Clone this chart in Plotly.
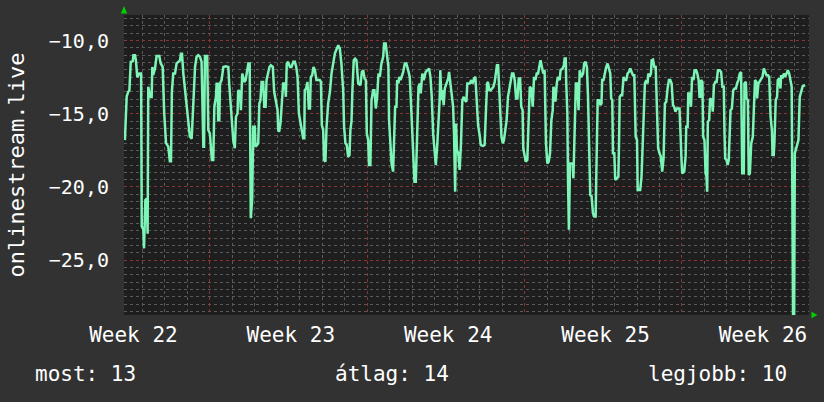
import plotly.graph_objects as go

# time in days from left edge of the graph, and measured values
days = [
    0.04, 0.09, 0.12, 0.19, 0.24, 0.30, 0.39, 0.42, 0.49, 0.53, 0.59, 0.68, 0.76, 0.79, 0.86, 0.89, 0.95, 1.01, 1.05, 1.08,
    1.16, 1.23, 1.26, 1.30, 1.38, 1.45, 1.57, 1.63, 1.72, 1.79, 1.87, 1.97, 2.04, 2.09, 2.13, 2.19, 2.27, 2.34, 2.42, 2.49,
    2.53, 2.58, 2.64, 2.71, 2.79, 2.86, 2.93, 3.01, 3.08, 3.16, 3.23, 3.30, 3.38, 3.45, 3.53, 3.56, 3.60, 3.70, 3.75, 3.82,
    3.87, 3.91, 3.97, 4.02, 4.09, 4.12, 4.16, 4.19, 4.24, 4.27, 4.34, 4.42, 4.53, 4.64, 4.68, 4.74, 4.80, 4.86, 4.93,
    4.98, 5.05, 5.08, 5.16, 5.20, 5.26, 5.35, 5.41, 5.47, 5.53, 5.59, 5.62, 5.64, 5.70, 5.75, 5.82, 5.85, 5.91, 5.97, 6.02,
    6.07, 6.12, 6.19, 6.24, 6.30, 6.34, 6.42, 6.47, 6.53, 6.62, 6.68, 6.76, 6.83, 6.86, 6.90, 6.96, 7.01, 7.08, 7.16, 7.20,
    7.24, 7.30, 7.38, 7.45, 7.53, 7.60, 7.66, 7.72, 7.78, 7.82, 7.90, 7.97, 8.02, 8.04, 8.10, 8.16, 8.22, 8.27, 8.31, 8.37,
    8.43, 8.49, 8.56, 8.71, 8.76, 8.80, 8.86, 8.90, 8.96, 9.01, 9.08, 9.16, 9.23, 9.30, 9.38, 9.45, 9.53, 9.60, 9.67, 9.75,
    9.79, 9.85, 9.91, 9.97, 10.03, 10.07,
    10.12, 10.16, 10.22, 10.28, 10.34, 10.42, 10.52, 10.58, 10.64, 10.70, 10.76, 10.80, 10.86, 10.90, 10.96, 11.01, 11.08, 11.14, 11.20, 11.26,
    11.32, 11.38, 11.45, 11.53, 11.57, 11.64, 11.70, 11.76, 11.79, 11.85, 11.90, 11.97, 12.02, 12.06, 12.12, 12.15, 12.21, 12.24, 12.30, 12.36,
    12.42, 12.49, 12.56, 12.64, 12.71, 12.77, 12.83, 12.89, 12.92, 12.98, 13.04, 13.10, 13.16, 13.20, 13.27, 13.33, 13.42, 13.48, 13.57, 13.63,
    13.69, 13.75, 13.81, 13.87, 13.93, 13.99, 14.04, 14.07, 14.12, 14.16, 14.22, 14.27, 14.34, 14.42, 14.46, 14.52, 14.58, 14.64, 14.68, 14.73,
    14.77, 14.81, 14.87, 14.93, 14.99, 15.05, 15.11,
    15.16, 15.23, 15.27, 15.38, 15.45, 15.51, 15.57, 15.63, 15.67, 15.75, 15.82, 15.87, 15.97, 16.04, 16.09, 16.15, 16.19, 16.25, 16.31, 16.37,
    16.43, 16.49, 16.55, 16.59, 16.64, 16.68, 16.74, 16.79, 16.85, 16.90, 16.96, 17.02, 17.08, 17.14, 17.20, 17.26, 17.32, 17.38, 17.44, 17.50,
    17.56, 17.62, 17.67, 17.73, 17.76, 17.82, 17.87, 17.94, 18.00, 18.05, 18.12, 18.18, 18.24, 18.30, 18.36, 18.42, 18.47, 18.53, 18.59, 18.65,
    18.71, 18.77, 18.83, 18.89, 18.95, 19.01, 19.07, 19.10, 19.16, 19.19, 19.25, 19.30, 19.38, 19.42, 19.51, 19.57, 19.60, 19.65, 19.67, 19.72,
    19.75, 19.79, 19.84, 19.90, 19.96, 19.99, 20.05, 20.10, 20.16, 20.22,
    20.27, 20.34, 20.42, 20.47, 20.53, 20.59, 20.64, 20.68, 20.74, 20.80, 20.86, 20.92, 20.98, 21.01, 21.07, 21.13, 21.19, 21.24, 21.27, 21.33,
    21.38, 21.45, 21.51, 21.57, 21.63, 21.67, 21.72, 21.75, 21.81, 21.85, 21.93, 21.99, 22.02, 22.05, 22.10, 22.16, 22.22, 22.28, 22.34, 22.40,
    22.46, 22.52, 22.58, 22.64, 22.70, 22.76, 22.82, 22.85, 22.90, 22.96, 23.02, 23.08, 23.11, 23.17, 23.23, 23.29, 23.32, 23.38, 23.44, 23.47,
    23.53, 23.59, 23.65, 23.70, 23.76, 23.82, 23.88, 23.94, 24.00, 24.06, 24.12, 24.18, 24.24, 24.30, 24.36, 24.42, 24.47, 24.53, 24.59, 24.71,
    24.76, 24.80, 24.83, 24.92, 24.98, 25.01, 25.07, 25.10, 25.16, 25.22, 25.27, 25.33,
    25.38, 25.45, 25.50, 25.56, 25.60, 25.65, 25.67, 25.73, 25.76, 25.82, 25.87, 25.91, 25.94, 25.97, 26.03, 26.07, 26.15, 26.19, 26.24, 26.30,
    26.36, 26.42, 26.49, 26.56, 26.62, 26.68, 26.71, 26.74, 26.80, 26.85, 26.90, 26.95, 26.98, 27.04, 27.10, 27.16, 27.22, 27.27, 27.33, 27.39,
    27.45, 27.50, 27.57, 27.60, 27.66, 27.69, 27.75, 27.79, 27.84, 27.90, 27.97, 28.05, 28.07, 28.13, 28.16, 28.22, 28.31, 28.40, 28.46, 28.52,
    28.58, 28.64, 28.70, 28.76, 28.82, 28.85, 28.90, 28.93, 28.99, 29.05, 29.08, 29.14, 29.20, 29.23, 29.29, 29.35, 29.41, 29.47, 29.53, 29.59,
    29.65, 29.70, 29.73, 29.76, 29.81, 29.84, 29.90, 29.94, 30.00, 30.06, 30.12, 30.19, 30.30,
]

values = [
    -16.8, -15.3, -13.8, -13.5, -13.4, -11.45, -11.4, -11.0, -11.0, -11.35, -12.5, -12.25, -12.25, -22.7, -22.9, -24.2, -20.9, -20.8, -23.2, -13.15,
    -13.85, -13.85, -11.8, -12.35, -11.9, -11.05, -11.05, -11.55, -11.8, -15.0, -17.0, -17.25, -18.25, -18.25, -13.5, -12.25, -12.25, -11.55, -11.45, -11.35,
    -10.9, -10.9, -12.25, -13.4, -14.5, -15.9, -16.55, -16.7, -14.5, -11.8, -11.1, -11.0, -11.1, -11.45, -17.25, -17.25, -11.05, -11.05, -16.1, -16.35,
    -17.35, -18.15, -18.15, -14.5, -13.85, -12.95, -12.95, -15.45, -15.45, -12.95, -12.7, -11.8, -11.75, -11.8, -12.95, -14.5, -16.1, -16.8, -17.35,
    -15.2, -14.98, -13.39, -13.5, -14.75, -12.25, -12.82, -12.70, -12.02, -11.57, -11.57, -20.66, -22.14, -20.89, -15.89, -15.89, -17.25, -17.14, -17.02, -14.30,
    -14.07, -12.82, -12.82, -14.52, -14.52, -12.70, -12.25, -11.80, -11.68, -11.80, -13.5, -14.07, -14.75, -16.11, -16.23, -15.66, -14.75, -12.93, -12.93, -13.84,
    -11.57, -11.45, -11.80, -11.80, -11.45, -11.45, -11.80, -12.48, -14.98, -15.32, -16.11, -16.68, -16.68, -13.39, -13.27, -12.82, -14.64, -14.64, -12.48, -12.36,
    -11.80, -12.02, -12.70, -12.70, -12.82, -15.77, -16.11, -18.16, -18.27, -15.89, -14.30, -13.5, -12.25, -11.45, -10.89, -10.61, -10.32, -10.55, -11.57, -13.39,
    -15.89, -17.02, -17.14, -17.93, -17.82, -16.11,
    -15.5, -13.39, -11.34, -11.23, -11.34, -12.93, -13.05, -12.14, -12.02, -12.59, -12.70, -16.34, -16.80, -18.5, -18.5, -14.07, -13.39, -13.39, -14.64, -13.84,
    -12.25, -12.48, -11.57, -11.11, -10.20, -10.20, -10.89, -11.80, -15.43, -16.80, -18.39, -18.95, -15.66, -14.52, -14.52, -12.70, -12.93, -12.48, -12.70, -12.48,
    -12.14, -11.57, -11.57, -12.02, -12.48, -14.41, -16.34, -17.93, -19.64, -19.64, -15.43, -13.16, -12.93, -13.61, -12.25, -12.70, -12.14, -12.02, -11.91, -12.48,
    -13.84, -16.34, -17.70, -18.5, -17.25, -15.89, -14.07, -12.02, -14.07, -13.39, -14.41, -13.27, -12.93, -12.59, -12.14, -12.93, -13.84, -14.52, -16.34, -20.32,
    -15.66, -17.48, -17.70, -18.84, -17.02, -14.07, -13.84,
    -14.07, -14.18, -12.93, -12.93, -12.70, -12.93, -12.59, -12.48, -13.84, -15.77, -16.45, -17.14, -17.2, -17.14, -15.20, -12.93, -12.82, -13.39, -13.39, -13.27,
    -13.16, -12.82, -12.02, -11.68, -11.68, -12.93, -15.09, -16.57, -17.02, -16.80, -16.11, -15.43, -13.84, -13.39, -12.70, -12.25, -12.25, -12.70, -13.95, -13.95,
    -12.59, -12.59, -14.52, -14.75, -17.36, -17.93, -18.27, -18.16, -15.89, -13.16, -13.27, -14.52, -12.48, -12.70, -12.25, -12.25, -11.80, -11.34, -11.80, -12.25,
    -12.02, -17.02, -18.39, -18.27, -17.70, -15.43, -14.75, -13.16, -13.39, -14.18, -12.93, -12.48, -12.70, -12.02, -11.91, -11.68, -11.23, -11.23, -12.82, -14.98,
    -19.52, -22.93, -18.39, -18.39, -18.39, -19.41, -15.20, -12.93, -12.93, -14.75,
    -12.02, -12.48, -12.25, -11.57, -11.45, -11.80, -13.84, -16.57, -20.55, -20.66, -21.8, -22.02, -22.02, -19.07, -14.07, -14.07, -14.41, -14.30, -12.70, -12.70,
    -12.25, -11.80, -11.57, -12.02, -12.25, -13.95, -14.07, -17.70, -17.70, -19.52, -19.41, -19.30, -17.02, -13.84, -13.73, -13.73, -12.48, -12.70, -12.70, -12.25,
    -12.14, -11.91, -12.14, -12.36, -12.36, -16.57, -16.80, -20.2, -20.2, -20.2, -19.30, -16.57, -14.75, -12.93, -12.70, -12.93, -12.25, -12.48, -12.25, -11.34,
    -11.30, -11.80, -11.80, -14.07, -17.36, -17.70, -17.93, -18.95, -18.05, -14.30, -14.18, -13.27, -12.70, -12.70, -12.93, -14.41, -14.52, -14.86, -14.64, -14.64,
    -17.70, -18.16, -19.07, -18.95, -17.93, -15.89, -15.89, -13.61, -13.61, -14.52, -12.48, -12.70,
    -12.02, -12.02, -12.25, -12.70, -13.84, -13.84, -12.70, -12.82, -16.57, -16.80, -19.07, -19.30, -20.32, -15.55, -15.43, -13.95, -14.07, -14.86, -13.05, -12.82,
    -12.82, -12.02, -12.02, -12.14, -13.16, -13.16, -16.23, -18.05, -18.16, -18.5, -18.16, -16.34, -14.75, -14.64, -13.39, -13.27, -13.27, -12.93, -12.70, -12.25,
    -12.14, -19.07, -19.07, -12.93, -12.82, -13.95, -14.07, -19.18, -19.07, -17.02, -16.57, -13.39, -12.70, -12.82, -13.95, -12.93, -12.70, -12.48, -11.91, -12.14,
    -12.36, -12.36, -12.48, -15.20, -16.11, -17.82, -17.82, -17.02, -14.07, -13.84, -12.70, -12.59, -13.27, -12.36, -12.59, -12.25, -12.48, -12.25, -12.02, -12.25,
    -12.70, -13.16, -20.66, -28.73, -28.73, -17.70, -17.36, -17.02, -16.80, -13.84, -13.39, -13.11, -13.05,
]

assert len(days) == len(values), (len(days), len(values))

x_range = [0, 30.47]
y_range = [-28.75, -8.25]
week_line_start = 3.82  # first week boundary (day units)
week_label_pos = [0.42, 7.42, 14.42, 21.42, 28.42]
week_labels = ["Week 22", "Week 23", "Week 24", "Week 25", "Week 26"]
y_title = "onlinestream.live"
legend_texts = ["most: 13", "átlag: 14", "legjobb: 10"]

FONT = "DejaVu Sans Mono"
GRID_MAJOR = "#8a3535"
GRID_MINOR = "#5a5a5a"

fig = go.Figure()
fig.add_trace(go.Scatter(
    x=days, y=values, mode="lines",
    line=dict(color="#7df5b6", width=2.5),
    hoverinfo="skip", showlegend=False,
))
# empty helper trace so the label axis (x2) is rendered
fig.add_trace(go.Scatter(
    x=[x_range[0], x_range[1]], y=[None, None], xaxis="x2", yaxis="y",
    mode="lines", hoverinfo="skip", showlegend=False,
))

fig.update_layout(
    width=824, height=402,
    margin=dict(l=124, r=14.5, t=15, b=87, pad=0),
    paper_bgcolor="#323232", plot_bgcolor="#1e1e1e",
    separators=",.",
    font=dict(family=FONT, color="#ffffff", size=20),
    showlegend=False,
    xaxis=dict(
        range=x_range, tick0=week_line_start, dtick=7,
        showticklabels=False, ticks="",
        showgrid=True, gridcolor=GRID_MAJOR, griddash="dot", gridwidth=1,
        zeroline=False, showline=False,
        minor=dict(tick0=week_line_start, dtick=1, showgrid=True,
                   gridcolor=GRID_MINOR, griddash="dot", gridwidth=1),
    ),
    xaxis2=dict(
        overlaying="x", anchor="y", side="bottom",
        range=x_range, tickmode="array",
        tickvals=week_label_pos, ticktext=week_labels,
        tickfont=dict(family=FONT, size=21, color="#ffffff"),
        showgrid=False, zeroline=False, showline=False, ticks="",
        ticklabelstandoff=5,
    ),
    yaxis=dict(
        range=y_range, tick0=0, dtick=5, tickformat=".1f",
        tickfont=dict(family=FONT, size=20, color="#ffffff"),
        showgrid=True, gridcolor=GRID_MAJOR, griddash="dot", gridwidth=1,
        zeroline=False, showline=False, ticks="",
        ticklabelstandoff=14,
        minor=dict(tick0=0, dtick=0.5, showgrid=True,
                   gridcolor=GRID_MINOR, griddash="dot", gridwidth=1),
        title=dict(text=y_title, font=dict(family=FONT, size=22, color="#ffffff"),
                   standoff=18),
    ),
)

legend_x = [-0.1332, 0.3914, 0.9713]
legend_anchor = ["left", "center", "right"]
for txt, xp, xa in zip(legend_texts, legend_x, legend_anchor):
    fig.add_annotation(text=txt, x=xp, y=-0.196, xref="paper", yref="paper",
                       xanchor=xa, yanchor="middle", showarrow=False,
                       font=dict(family=FONT, size=21, color="#ffffff"))

# small green arrow heads at axis ends
fig.add_shape(type="path", xref="paper", yref="paper",
              path="M 0,1.03 L -0.0046,1.005 L 0.0046,1.005 Z",
              fillcolor="#00d000", line=dict(width=0))
fig.add_shape(type="path", xref="paper", yref="paper",
              path="M 1.0124,0 L 1.0036,0.011 L 1.0036,-0.011 Z",
              fillcolor="#00d000", line=dict(width=0))

fig.write_html("out.html")
